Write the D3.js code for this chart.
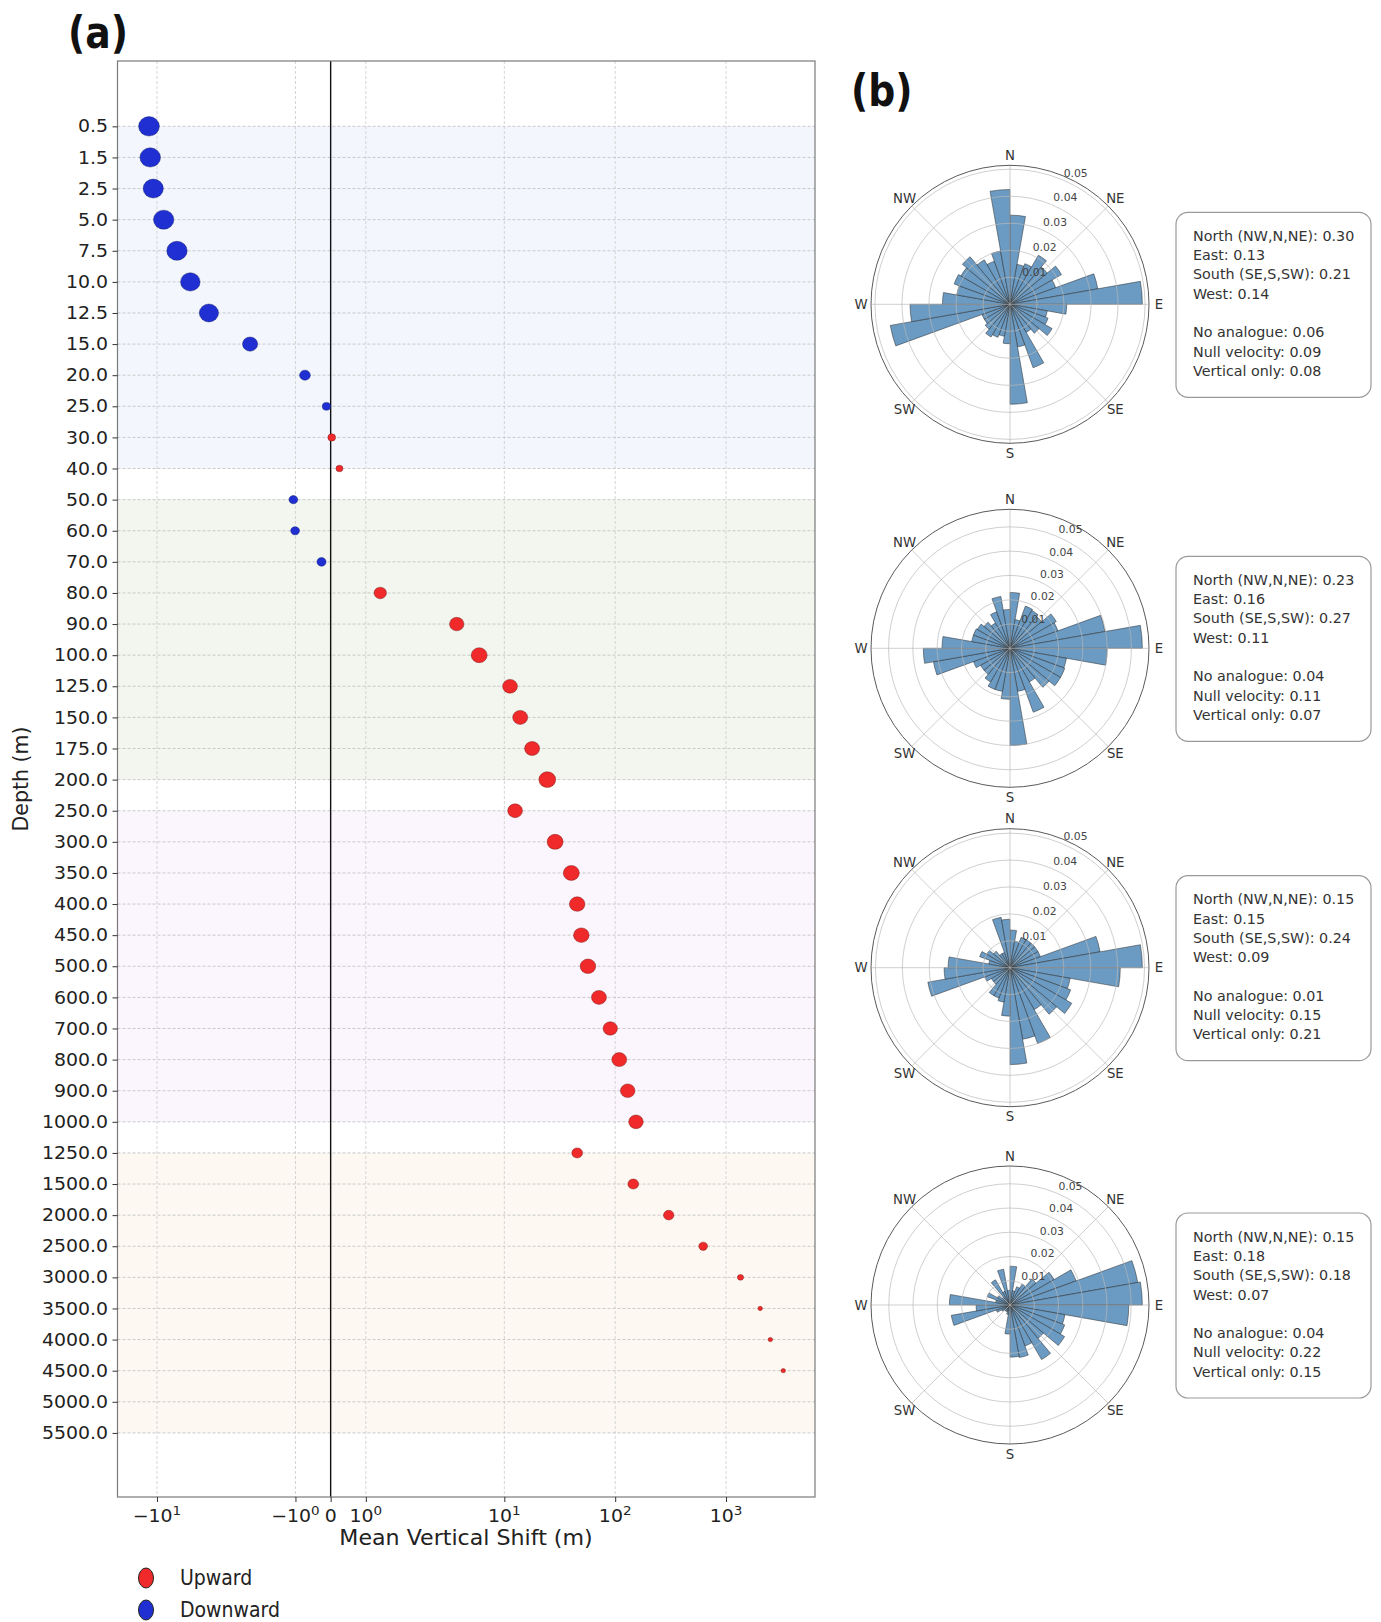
<!DOCTYPE html>
<html>
<head>
<meta charset="utf-8">
<script src="https://cdn.jsdelivr.net/npm/d3@7"></script>
<style>
  body { margin: 0; background: #fff; }
  svg text { font-family: "DejaVu Sans", sans-serif; }
</style>
</head>
<body>
<svg id="fig" width="1381" height="1622"></svg>
<script>
// ---------------- Panel (a): mean vertical shift by depth ----------------
const depths = ["0.5","1.5","2.5","5.0","7.5","10.0","12.5","15.0","20.0","25.0",
  "30.0","40.0","50.0","60.0","70.0","80.0","90.0","100.0","125.0","150.0",
  "175.0","200.0","250.0","300.0","350.0","400.0","450.0","500.0","600.0","700.0",
  "800.0","900.0","1000.0","1250.0","1500.0","2000.0","2500.0","3000.0","3500.0","4000.0",
  "4500.0","5000.0","5500.0"];

// mean vertical shift (m); null = no data at that depth
const meanShift = [-11.8,-11.5,-10.8,-8.7,-6.6,-5.0,-3.46,-2.29,-0.73,-0.12,
  0.03,0.25,-1.06,-1.01,-0.26,1.41,3.72,5.93,11.25,13.9,
  17.8,24.4,12.5,28.7,40.2,45.4,49.5,56.8,71.4,90.3,
  108.8,129.7,154,45.4,145.6,304,622,1351,2033,2510,
  3283,null,null];

// number of grid cells behind each depth mean (drives marker area)
const cellCount = [1082,1061,1020,1040,1040,960,922,578,292,176,
  152,123,194,194,212,384,518,640,548,562,
  562,706,548,640,640,608,608,608,562,518,
  562,533,533,292,292,270,194,96,53,53,
  53,null,null];

const xTicks = [-10,-1,0,1,10,100,1000];
const xTickBase = ["\u221210","\u221210","0","10","10","10","10"];
const xTickExp  = ["1","0","","0","1","2","3"];

// depth zones shaded behind the points (first and last depth of each zone)
const zoneStart = ["0.5","50.0","250.0","1250.0"];
const zoneEnd   = ["40.0","200.0","1000.0","5500.0"];
const zoneFill  = ["#f3f7fd","#f2f6ef","#fbf6fd","#fdf9f2"];

// ---------------- Panel (b): direction roses ----------------
const compass = ["N","NE","E","SE","S","SW","W","NW"];
const ringTicks = [0.01,0.02,0.03,0.04,0.05];

// fraction of cells per 10-degree bearing bin, clockwise from north (0-10, 10-20, ...)
const roseShallow = [0.033,0.015,0.016,0.021,0.018,0.022,0.018,0.033,0.049,0.021,
  0.014,0.015,0.018,0.014,0.012,0.025,0.016,0.037,0.0146,0.012,
  0.013,0.014,0.012,0.011,0.011,0.045,0.037,0.025,0.020,0.022,
  0.021,0.023,0.019,0.017,0.020,0.0425];
const roseUpper = [0.023,0.012,0.0185,0.018,0.017,0.022,0.021,0.0397,0.0545,0.040,
  0.0236,0.024,0.024,0.021,0.016,0.028,0.018,0.040,0.021,0.018,
  0.018,0.016,0.014,0.014,0.016,0.032,0.0357,0.028,0.016,0.016,
  0.0155,0.014,0.012,0.016,0.0217,0.016];
const roseMid = [0.014,0.010,0.012,0.012,0.012,0.012,0.012,0.034,0.0492,0.041,
  0.0227,0.024,0.0265,0.0226,0.018,0.030,0.027,0.036,0.018,0.013,
  0.012,0.012,0.008,0.008,0.010,0.031,0.0245,0.023,0.008,0.012,
  0.010,0.008,0.006,0.006,0.019,0.018];
const roseDeep = [0.016,0.006,0.008,0.010,0.014,0.021,0.029,0.0535,0.0546,0.049,
  0.023,0.024,0.026,0.018,0.026,0.018,0.022,0.0215,0.012,0.004,
  0.003,0.003,0.003,0.004,0.006,0.0246,0.014,0.025,0.006,0.010,
  0.006,0.004,0.012,0.006,0.015,0.006];

const summaryNames = ["North (NW,N,NE)","East","South (SE,S,SW)","West",
  "No analogue","Null velocity","Vertical only"];
const summaryShallow = [0.30,0.13,0.21,0.14,0.06,0.09,0.08];
const summaryUpper   = [0.23,0.16,0.27,0.11,0.04,0.11,0.07];
const summaryMid     = [0.15,0.15,0.24,0.09,0.01,0.15,0.21];
const summaryDeep    = [0.15,0.18,0.18,0.07,0.04,0.22,0.15];

// ======================================================================
const svg = d3.select("#fig");
const STRETCH = 1.08;   // panel (a) text is drawn slightly wide

// symmetric-log transform (linear core of half-width LINTHRESH)
const LINTHRESH = 3.5, LINSCALE_ADJ = 1 / (1 - 1 / 10);
function symlog(v) {
  const a = Math.abs(v);
  if (a <= LINTHRESH) return v * LINSCALE_ADJ;
  return Math.sign(v) * LINTHRESH * (LINSCALE_ADJ + Math.log10(a / LINTHRESH));
}

const frame = { left: 117.5, right: 815, top: 61, bottom: 1497 };
const xLin = d3.scaleLinear().domain([symlog(-22.7), symlog(6350)]).range([frame.left, frame.right]);
const x = v => xLin(symlog(v));
const y = d3.scaleLinear().domain([-2.1, 44.06]).range([frame.top, frame.bottom]);
const rMark = d3.scaleSqrt().domain([0, d3.max(cellCount)]).range([0, 10.4]);

const pa = svg.append("g");

// zone shading
pa.selectAll("rect.zone").data(zoneStart).join("rect")
  .attr("class", "zone")
  .attr("x", frame.left).attr("width", frame.right - frame.left)
  .attr("y", (d, i) => y(depths.indexOf(d)))
  .attr("height", (d, i) => y(depths.indexOf(zoneEnd[i])) - y(depths.indexOf(d)))
  .attr("fill", (d, i) => zoneFill[i]);

// grid
pa.append("g").selectAll("line").data(depths).join("line")
  .attr("x1", frame.left).attr("x2", frame.right)
  .attr("y1", (d, i) => y(i)).attr("y2", (d, i) => y(i))
  .attr("stroke", "#c4c4c4").attr("stroke-width", 0.9).attr("stroke-dasharray", "3,2");
pa.append("g").selectAll("line").data(xTicks.filter(t => t !== 0)).join("line")
  .attr("x1", d => x(d)).attr("x2", d => x(d))
  .attr("y1", frame.top).attr("y2", frame.bottom)
  .attr("stroke", "#d0d0d0").attr("stroke-width", 0.9).attr("stroke-dasharray", "3,2");

// zero line
pa.append("line")
  .attr("x1", x(0)).attr("x2", x(0)).attr("y1", frame.top).attr("y2", frame.bottom)
  .attr("stroke", "#111").attr("stroke-width", 1.4);

// points
const pts = depths.map((d, i) => ({ d, i, v: meanShift[i], n: cellCount[i] }))
  .filter(p => p.v !== null);
pa.append("g").selectAll("ellipse").data(pts).join("ellipse")
  .attr("cx", p => x(p.v)).attr("cy", p => y(p.i))
  .attr("rx", p => rMark(p.n)).attr("ry", p => rMark(p.n) / 1.07)
  .attr("fill", p => p.v >= 0 ? "#f02a2a" : "#1f2fd2")
  .attr("stroke", p => p.v >= 0 ? "#6a1010" : "#101a60")
  .attr("stroke-width", 0.6).attr("stroke-opacity", 0.7);

// frame
pa.append("rect")
  .attr("x", frame.left).attr("y", frame.top)
  .attr("width", frame.right - frame.left).attr("height", frame.bottom - frame.top)
  .attr("fill", "none").attr("stroke", "#7a7a7a").attr("stroke-width", 1.2);

// y axis
const yAxis = pa.append("g").attr("transform", `translate(${frame.left},0)`)
  .call(d3.axisLeft(y).tickValues(d3.range(depths.length)).tickFormat(i => depths[i])
    .tickSize(5).tickPadding(4.5));
yAxis.select(".domain").remove();
yAxis.selectAll(".tick line").attr("stroke", "#333").attr("stroke-width", 1);
yAxis.selectAll(".tick text")
  .attr("font-family", "DejaVu Sans").attr("font-size", 17.5).attr("fill", "#222")
  .attr("x", -9.5 / STRETCH).attr("transform", `scale(${STRETCH},1)`);

// x axis (ticks only; labels carry superscripts)
const xAxis = pa.append("g").attr("transform", `translate(0,${frame.bottom})`)
  .call(d3.axisBottom(xLin).tickValues(xTicks.map(symlog)).tickFormat(() => "").tickSize(5));
xAxis.select(".domain").remove();
xAxis.selectAll(".tick line").attr("stroke", "#333").attr("stroke-width", 1);

xTicks.forEach((t, i) => {
  const g = pa.append("g").attr("transform", `translate(${x(t)},1522) scale(${STRETCH},1)`);
  const tx = g.append("text").attr("text-anchor", "middle")
    .attr("font-size", 17.5).attr("fill", "#222");
  tx.append("tspan").text(xTickBase[i]);
  if (xTickExp[i]) tx.append("tspan").attr("font-size", 12.5).attr("dy", -7).text(xTickExp[i]);
});

// axis titles
pa.append("text").attr("transform", `translate(466,1545) scale(${STRETCH},1)`)
  .attr("text-anchor", "middle").attr("font-size", 20.5).attr("fill", "#222")
  .text("Mean Vertical Shift (m)");
pa.append("text").attr("transform", "translate(28,779) rotate(-90)")
  .attr("text-anchor", "middle").attr("font-size", 20.5).attr("fill", "#222")
  .text("Depth (m)");

// panel tags (condensed bold)
const tagFont = "'Liberation Sans', Arial, sans-serif";
svg.append("text").attr("transform", "translate(68,48) scale(0.84,1)")
  .attr("font-family", tagFont).attr("font-weight", "bold").attr("font-size", 45).attr("fill", "#111")
  .text("(a)");
svg.append("text").attr("transform", "translate(851,106) scale(0.84,1)")
  .attr("font-family", tagFont).attr("font-weight", "bold").attr("font-size", 45).attr("fill", "#111")
  .text("(b)");

// legend
const legendLabels = ["Upward", "Downward"];
const legendFill = ["#f02a2a", "#1f2fd2"];
legendLabels.forEach((lab, i) => {
  const ly = 1578 + i * 32;
  svg.append("ellipse").attr("cx", 146).attr("cy", ly).attr("rx", 7.5).attr("ry", 10)
    .attr("fill", legendFill[i]).attr("stroke", "#222").attr("stroke-width", 1);
  svg.append("text").attr("transform", `translate(180,${ly + 7}) scale(0.9,1)`)
    .attr("font-family", tagFont).attr("font-size", 21).attr("fill", "#222").text(lab);
});

// ---------------- roses ----------------
const roses = [
  { cy: 304.3, bins: roseShallow, summary: summaryShallow },
  { cy: 648.3, bins: roseUpper, summary: summaryUpper },
  { cy: 967.7, bins: roseMid, summary: summaryMid },
  { cy: 1305, bins: roseDeep, summary: summaryDeep }
];
const RCX = 1010, R = 139;

roses.forEach(rose => {
  const g = svg.append("g").attr("transform", `translate(${RCX},${rose.cy})`);
  const rmax = d3.max(rose.bins) * 1.05;
  const r = d3.scaleLinear().domain([0, rmax]).range([0, R]);
  const ang = d3.scaleLinear().domain([0, rose.bins.length]).range([0, 2 * Math.PI]);
  const arc = d3.arc().innerRadius(0)
    .outerRadius(d => r(d.v)).startAngle(d => ang(d.i)).endAngle(d => ang(d.i + 1));

  g.append("circle").attr("r", R).attr("fill", "#fff");

  g.append("g").selectAll("path").data(rose.bins.map((v, i) => ({ v, i }))).join("path")
    .attr("d", arc)
    .attr("fill", "#6b9bc3")
    .attr("stroke", "#2a2a2a").attr("stroke-width", 0.6).attr("stroke-opacity", 0.85);

  // grid drawn over the bars
  const ticks = ringTicks.filter(t => t < rmax);
  g.append("g").selectAll("circle").data(ticks).join("circle")
    .attr("r", d => r(d)).attr("fill", "none")
    .attr("stroke", "#b8b8b8").attr("stroke-width", 0.8).attr("stroke-opacity", 0.85);
  g.append("g").selectAll("line").data(compass).join("line")
    .attr("x1", 0).attr("y1", 0)
    .attr("x2", (d, i) => R * Math.sin(i * Math.PI / 4))
    .attr("y2", (d, i) => -R * Math.cos(i * Math.PI / 4))
    .attr("stroke", "#b8b8b8").attr("stroke-width", 0.8).attr("stroke-opacity", 0.85);

  g.append("circle").attr("r", R).attr("fill", "none")
    .attr("stroke", "#5a5a5a").attr("stroke-width", 1);

  const la = 22.5 * Math.PI / 180;
  g.append("g").selectAll("text").data(ticks).join("text")
    .attr("x", d => r(d) * Math.sin(la) + 2)
    .attr("y", d => -r(d) * Math.cos(la) - 3)
    .attr("font-size", 10.8).attr("fill", "#444")
    .text(d => d.toFixed(2));

  g.append("g").selectAll("text").data(compass).join("text")
    .attr("x", (d, i) => 149 * Math.sin(i * Math.PI / 4))
    .attr("y", (d, i) => -149 * Math.cos(i * Math.PI / 4))
    .attr("text-anchor", "middle").attr("dominant-baseline", "central")
    .attr("font-size", 13.3).attr("fill", "#333")
    .text(d => d);

  // summary box
  const bx = svg.append("g").attr("transform", `translate(1176,${rose.cy - 92})`);
  bx.append("rect").attr("width", 195).attr("height", 185).attr("rx", 12)
    .attr("fill", "#fff").attr("stroke", "#9a9a9a").attr("stroke-width", 1.2);
  const lines = rose.summary.map((v, i) => ({ text: `${summaryNames[i]}: ${v.toFixed(2)}`, row: i < 4 ? i : i + 1 }));
  bx.selectAll("text").data(lines).join("text")
    .attr("x", 17).attr("y", d => 92 - 68.4 + d.row * 19.3)
    .attr("dominant-baseline", "central")
    .attr("font-size", 14.3).attr("fill", "#333")
    .text(d => d.text);
});
</script>
</body>
</html>
